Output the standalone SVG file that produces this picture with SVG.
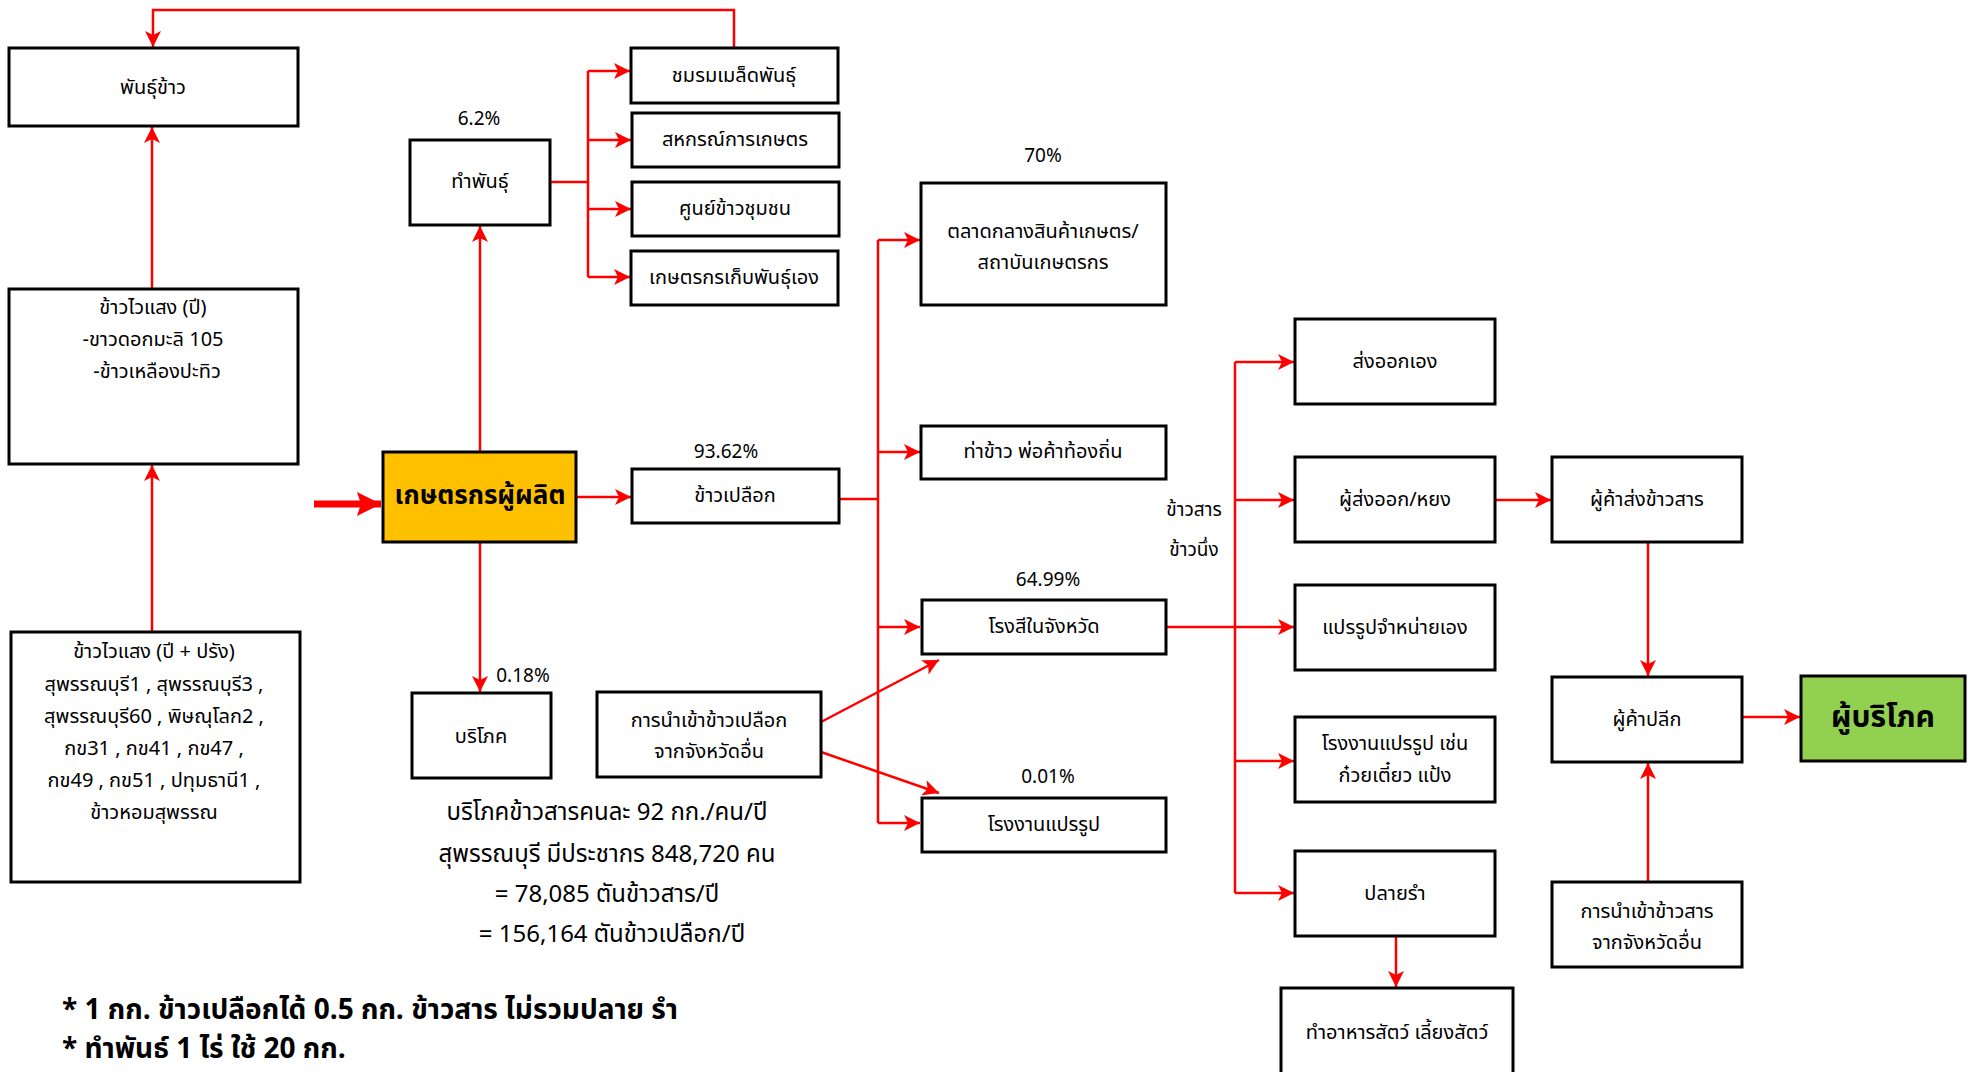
<svg xmlns="http://www.w3.org/2000/svg" width="1971" height="1072" viewBox="0 0 1971 1072">
<defs>
<style>
.box{fill:#fff;stroke:#000;stroke-width:3}
.t{font-family:"Noto Sans Thai","Noto Sans","DejaVu Sans",sans-serif;font-size:20px;fill:#000;text-anchor:middle;dominant-baseline:central}
.lbl{font-family:"Noto Sans Thai","Noto Sans","DejaVu Sans",sans-serif;font-size:19px;fill:#000;text-anchor:middle;dominant-baseline:central}
.big{font-family:"Noto Sans Thai","Noto Sans","DejaVu Sans",sans-serif;font-size:24px;fill:#000;text-anchor:middle;dominant-baseline:central}
.note{font-family:"Noto Sans Thai","Noto Sans","DejaVu Sans",sans-serif;font-size:28px;font-weight:bold;fill:#000;dominant-baseline:central}
.c{fill:none;stroke:#FF0000;stroke-width:2.5}
.ca{fill:none;stroke:#FF0000;stroke-width:2.5;marker-end:url(#ah)}
</style>
<marker id="ah" viewBox="0 0 12 12" refX="12" refY="6" markerWidth="16" markerHeight="16" markerUnits="userSpaceOnUse" orient="auto">
<path d="M0,0 L12,6 L0,12 L3,6 Z" fill="#FF0000"/>
</marker>
<marker id="ahb" viewBox="0 0 24 24" refX="24" refY="12" markerWidth="25" markerHeight="24" markerUnits="userSpaceOnUse" orient="auto">
<path d="M0,0 L24,12 L0,24 L4,12 Z" fill="#FF0000"/>
</marker>
</defs>

<g id="connectors">
<path class="ca" d="M734,48 V10 H153 V47"/>
<path class="ca" d="M152,289 V127"/>
<path class="ca" d="M152,632 V465"/>
<path d="M314,504 H381" fill="none" stroke="#FF0000" stroke-width="7" marker-end="url(#ahb)"/>
<path class="ca" d="M480,452 V226"/>
<path class="ca" d="M480,542 V692"/>
<path class="ca" d="M576,497 H631"/>
<path class="c" d="M550,182 H588 M588,71 V277"/>
<path class="ca" d="M588,71 H630"/>
<path class="ca" d="M588,140 H631"/>
<path class="ca" d="M588,209 H631"/>
<path class="ca" d="M588,277 H630"/>
<path class="c" d="M839,499 H878 M878,240 V823"/>
<path class="ca" d="M878,240 H920"/>
<path class="ca" d="M878,452 H920"/>
<path class="ca" d="M878,627 H920"/>
<path class="ca" d="M878,823 H920"/>
<path class="ca" d="M821,722 L939,660"/>
<path class="ca" d="M821,752 L939,793"/>
<path class="c" d="M1166,627 H1235 M1235,362 V893"/>
<path class="ca" d="M1235,362 H1294"/>
<path class="ca" d="M1235,500 H1294"/>
<path class="ca" d="M1235,627 H1294"/>
<path class="ca" d="M1235,761 H1294"/>
<path class="ca" d="M1235,893 H1294"/>
<path class="ca" d="M1495,500 H1551"/>
<path class="ca" d="M1648,542 V676"/>
<path class="ca" d="M1742,717 H1800"/>
<path class="ca" d="M1648,882 V763"/>
<path class="ca" d="M1396,936 V987"/>
</g>

<g id="n-phankhao"><rect class="box" x="9" y="48" width="289" height="78"/><text class="t" x="153" y="88">พันธุ์ข้าว</text></g>
<g id="n-waisaeng-pi"><rect class="box" x="9" y="289" width="289" height="175"/>
<text class="t" x="153" y="308">ข้าวไวแสง (ปี)</text>
<text class="t" x="153" y="340">-ขาวดอกมะลิ 105</text>
<text class="t" x="157" y="372">-ข้าวเหลืองปะทิว</text></g>
<g id="n-waisaeng-piprang"><rect class="box" x="11" y="632" width="289" height="250"/>
<text class="t" x="154" y="652">ข้าวไวแสง (ปี + ปรัง)</text>
<text class="t" x="154" y="685">สุพรรณบุรี1 , สุพรรณบุรี3 ,</text>
<text class="t" x="154" y="717">สุพรรณบุรี60 ,  พิษณุโลก2 ,</text>
<text class="t" x="154" y="749">กข31 , กข41 , กข47 ,</text>
<text class="t" x="154" y="781">กข49 , กข51 , ปทุมธานี1 ,</text>
<text class="t" x="154" y="813">ข้าวหอมสุพรรณ</text></g>
<g id="n-farmer"><rect x="383" y="452" width="193" height="90" fill="#FFC000" stroke="#000" stroke-width="3"/><text class="t" x="480" y="496" style="font-size:26px;font-weight:bold">เกษตรกรผู้ผลิต</text></g>
<g id="n-thamphan"><rect class="box" x="410" y="140" width="140" height="85"/><text class="t" x="480" y="182">ทำพันธุ์</text><text class="lbl" x="479" y="119">6.2%</text></g>
<g id="n-borisok"><rect class="box" x="412" y="693" width="139" height="85"/><text class="t" x="481" y="737">บริโภค</text><text class="lbl" x="523" y="676">0.18%</text></g>
<g id="n-chomrom"><rect class="box" x="631" y="48" width="207" height="55"/><text class="t" x="734" y="76">ชมรมเมล็ดพันธุ์</text></g>
<g id="n-sahakon"><rect class="box" x="632" y="113" width="207" height="54"/><text class="t" x="735" y="140">สหกรณ์การเกษตร</text></g>
<g id="n-soonkhao"><rect class="box" x="632" y="182" width="207" height="54"/><text class="t" x="735" y="209">ศูนย์ข้าวชุมชน</text></g>
<g id="n-kepphan"><rect class="box" x="631" y="251" width="207" height="54"/><text class="t" x="734" y="278">เกษตรกรเก็บพันธุ์เอง</text></g>
<g id="n-khaopluek"><rect class="box" x="632" y="469" width="207" height="54"/><text class="t" x="735" y="496">ข้าวเปลือก</text><text class="lbl" x="726" y="452">93.62%</text></g>
<g id="n-import-paddy"><rect class="box" x="597" y="692" width="224" height="85"/><text class="t" x="709" y="721">การนำเข้าข้าวเปลือก</text><text class="t" x="709" y="752">จากจังหวัดอื่น</text></g>
<g id="n-talad"><rect class="box" x="921" y="183" width="245" height="122"/><text class="t" x="1043" y="232">ตลาดกลางสินค้าเกษตร/</text><text class="t" x="1043" y="263">สถาบันเกษตรกร</text><text class="lbl" x="1043" y="156">70%</text></g>
<g id="n-thakhao"><rect class="box" x="921" y="426" width="245" height="53"/><text class="t" x="1043" y="452">ท่าข้าว พ่อค้าท้องถิ่น</text></g>
<g id="n-rongsi"><rect class="box" x="922" y="600" width="244" height="54"/><text class="t" x="1044" y="627">โรงสีในจังหวัด</text><text class="lbl" x="1048" y="580">64.99%</text></g>
<g id="n-rongngan"><rect class="box" x="922" y="798" width="244" height="54"/><text class="t" x="1044" y="825">โรงงานแปรรูป</text><text class="lbl" x="1048" y="777">0.01%</text></g>
<text class="lbl" x="1194" y="510">ข้าวสาร</text>
<text class="lbl" x="1194" y="550">ข้าวนึ่ง</text>
<g id="n-songok"><rect class="box" x="1295" y="319" width="200" height="85"/><text class="t" x="1395" y="362">ส่งออกเอง</text></g>
<g id="n-phusongok"><rect class="box" x="1295" y="457" width="200" height="85"/><text class="t" x="1395" y="500">ผู้ส่งออก/หยง</text></g>
<g id="n-praeroop"><rect class="box" x="1295" y="585" width="200" height="85"/><text class="t" x="1395" y="628">แปรรูปจำหน่ายเอง</text></g>
<g id="n-rongngan2"><rect class="box" x="1295" y="717" width="200" height="85"/><text class="t" x="1395" y="744">โรงงานแปรรูป เช่น</text><text class="t" x="1395" y="776">ก๋วยเตี๋ยว แป้ง</text></g>
<g id="n-plairam"><rect class="box" x="1295" y="851" width="200" height="85"/><text class="t" x="1395" y="894">ปลายรำ</text></g>
<g id="n-feed"><rect class="box" x="1281" y="988" width="232" height="92"/><text class="t" x="1397" y="1033">ทำอาหารสัตว์ เลี้ยงสัตว์</text></g>
<g id="n-wholesale"><rect class="box" x="1552" y="457" width="190" height="85"/><text class="t" x="1647" y="500">ผู้ค้าส่งข้าวสาร</text></g>
<g id="n-retail"><rect class="box" x="1552" y="677" width="190" height="85"/><text class="t" x="1647" y="720">ผู้ค้าปลีก</text></g>
<g id="n-import-rice"><rect class="box" x="1552" y="882" width="190" height="85"/><text class="t" x="1647" y="912">การนำเข้าข้าวสาร</text><text class="t" x="1647" y="943">จากจังหวัดอื่น</text></g>
<g id="n-consumer"><rect x="1801" y="676" width="164" height="85" fill="#92D050" stroke="#000" stroke-width="3"/><text class="t" x="1883" y="718" style="font-size:30px;font-weight:bold">ผู้บริโภค</text></g>

<g id="notes">
<text class="big" x="607" y="813">บริโภคข้าวสารคนละ 92 กก./คน/ปี</text>
<text class="big" x="607" y="855">สุพรรณบุรี มีประชากร 848,720 คน</text>
<text class="big" x="607" y="895">= 78,085 ตันข้าวสาร/ปี</text>
<text class="big" x="612" y="935">= 156,164 ตันข้าวเปลือก/ปี</text>
<text class="note" x="62" y="1010">* 1 กก. ข้าวเปลือกได้ 0.5 กก. ข้าวสาร ไม่รวมปลาย รำ</text>
<text class="note" x="62" y="1049">* ทำพันธ์ 1 ไร่ ใช้ 20 กก.</text>
</g>
</svg>
